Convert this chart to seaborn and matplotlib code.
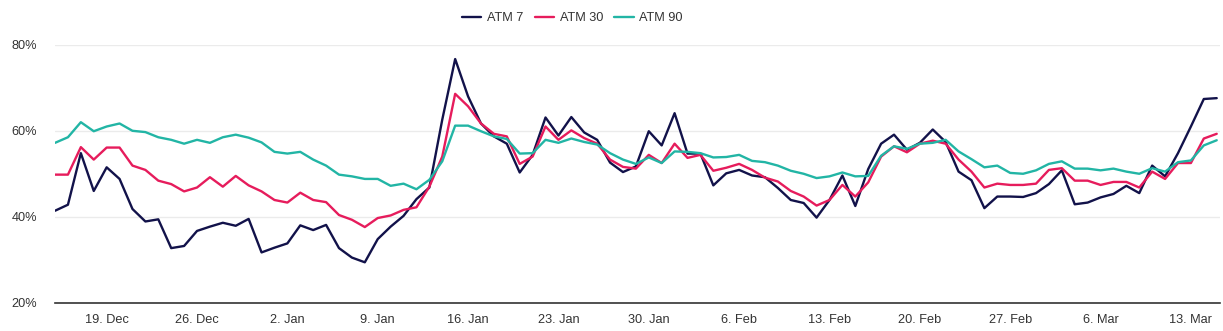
import numpy as np
import pandas as pd
import matplotlib
matplotlib.use("Agg")
import matplotlib.pyplot as plt
import matplotlib.dates as mdates
from matplotlib.ticker import FuncFormatter
import seaborn as sns

dates = pd.date_range("2022-12-15", "2023-03-15", freq="D")

atm7 = [41.4, 42.8, 54.8, 46.0, 51.5, 48.8, 41.8, 38.9, 39.4, 32.7, 33.2, 36.7, 37.7, 38.6, 37.9,
        39.5,
        31.7, 32.8, 33.8, 38.0, 36.9, 38.1, 32.7, 30.5, 29.4, 34.8, 37.7, 40.2, 44.1, 46.8, 62.6, 76.7, 68.0, 61.7,
        58.7, 57.0, 50.3, 54.4, 63.1, 58.9, 63.2, 59.6, 57.9, 52.6, 50.4, 51.7, 59.9, 56.6, 64.1, 54.7, 54.7, 47.3, 50.1,
        50.9, 49.6, 49.2, 46.7, 43.9, 43.2, 39.8, 43.9, 49.6, 42.5, 51.1, 57.0, 59.1, 55.6, 57.2, 60.3, 57.4, 50.5, 48.5,
        42.0, 44.7, 44.7, 44.6, 45.5, 47.6, 50.8, 42.9, 43.3, 44.5, 45.3, 47.2, 45.5, 51.9, 49.4, 54.8, 61.0, 67.4, 67.6]

atm30 = [49.8, 49.8, 56.2, 53.3, 56.1, 56.1, 51.9, 50.9, 48.4, 47.6, 45.9, 46.8, 49.2, 47.0, 49.5,
         47.3,
         45.9, 43.9, 43.3, 45.6, 43.9, 43.4, 40.4, 39.3, 37.6, 39.7, 40.3, 41.6, 42.2, 47.0, 54.0, 68.6, 65.7, 61.7,
         59.3, 58.7, 52.3, 54.0, 61.0, 57.9, 60.1, 58.3, 57.0, 53.3, 51.6, 51.2, 54.4, 52.5, 57.0, 53.7, 54.4, 50.7, 51.4,
         52.3, 50.9, 49.1, 48.2, 46.0, 44.7, 42.6, 43.9, 47.4, 44.7, 48.0, 54.0, 56.4, 55.0, 57.0, 57.7, 57.0, 53.3, 50.5,
         46.8, 47.7, 47.4, 47.4, 47.7, 50.9, 51.3, 48.4, 48.4, 47.4, 48.1, 48.1, 46.8, 50.5, 48.8, 52.5, 52.5, 58.2, 59.3]

atm90 = [57.2, 58.5, 62.0, 59.9, 61.0, 61.7, 60.0, 59.7, 58.5, 57.9, 57.0, 57.9, 57.2, 58.5, 59.1,
         58.4,
         57.3, 55.1, 54.7, 55.1, 53.3, 51.9, 49.8, 49.4, 48.8, 48.8, 47.2, 47.7, 46.4, 48.6, 52.9, 61.2, 61.2, 59.9,
         58.7, 58.1, 54.7, 54.8, 57.9, 57.2, 58.2, 57.4, 56.8, 54.8, 53.3, 52.3, 53.8, 52.5, 55.2, 55.1, 54.8, 53.8, 53.9,
         54.4, 53.0, 52.7, 51.9, 50.7, 50.0, 49.0, 49.4, 50.3, 49.4, 49.5, 54.2, 56.4, 55.8, 57.0, 57.2, 57.9, 55.2, 53.4,
         51.5, 51.9, 50.2, 50.0, 50.8, 52.3, 52.9, 51.2, 51.2, 50.8, 51.2, 50.5, 50.0, 51.3, 50.5, 52.7, 53.1, 56.6, 57.8]

series_names = ["ATM 7", "ATM 30", "ATM 90"]
y_ticks = [20, 40, 60, 80]

df = pd.concat([
    pd.DataFrame({"date": dates, "value": atm7, "series": series_names[0]}),
    pd.DataFrame({"date": dates, "value": atm30, "series": series_names[1]}),
    pd.DataFrame({"date": dates, "value": atm90, "series": series_names[2]}),
])

sns.set_style("white")
plt.rcParams["font.family"] = ["Liberation Sans", "DejaVu Sans"]

palette = {"ATM 7": "#12124a", "ATM 30": "#e61c5c", "ATM 90": "#22b5a5"}

fig = plt.figure(figsize=(12.23, 3.31), dpi=100)
ax = fig.add_axes([0.045, 0.0855, 0.9525, 0.779])

sns.lineplot(data=df, x="date", y="value", hue="series", palette=palette,
             linewidth=1.7, ax=ax, legend=True)

ax.set_ylim(20, 80)
ax.set_xlim(dates[0], dates[-1] + pd.Timedelta(hours=6))
ax.set_yticks(y_ticks)
ax.yaxis.set_major_formatter(FuncFormatter(lambda v, p: f"{int(v)}%"))
ax.xaxis.set_major_locator(mdates.WeekdayLocator(byweekday=mdates.MO))
ax.xaxis.set_major_formatter(mdates.DateFormatter("%-d. %b"))

ax.grid(axis="y", color="#ebebeb", linewidth=1)
ax.grid(axis="x", visible=False)
for s in ["top", "right", "left"]:
    ax.spines[s].set_visible(False)
ax.spines["bottom"].set_color("#333333")
ax.spines["bottom"].set_linewidth(1.2)
ax.tick_params(axis="both", length=0, labelsize=9.2, colors="#333333")
ax.tick_params(axis="x", pad=8)
ax.tick_params(axis="y", pad=13)
ax.set_xlabel("")
ax.set_ylabel("")

handles, labels = ax.get_legend_handles_labels()
ax.legend(handles, labels, loc="center", bbox_to_anchor=(0.468, 0.945),
          bbox_transform=fig.transFigure, ncol=3, frameon=False,
          fontsize=9.2, handlelength=1.5, columnspacing=0.9, handletextpad=0.45,
          labelcolor="#333333")

fig.savefig("out.png", dpi=100)
